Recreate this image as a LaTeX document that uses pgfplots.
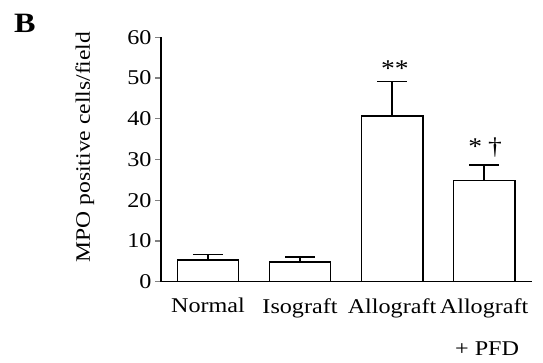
\documentclass[border=0pt]{standalone}
\usepackage{fontspec}
\setmainfont{Liberation Serif}[FakeStretch=1.15]
\usepackage{pgfplots}
\usepackage{pgfplotstable}
\pgfplotsset{compat=1.18}
\pgfplotstableread{
x y err
0 5.3 1.4
1 4.8 1.3
2 40.7 8.4
3 24.8 3.9
}\mpo
\begin{document}
\begin{tikzpicture}
\useasboundingbox (0,0) rectangle (543pt,-362pt);
\begin{axis}[
  at={(161pt,-281.7pt)}, anchor=south west,
  scale only axis, width=371pt, height=244.4pt,
  xmin=-0.51, xmax=3.52, ymin=0, ymax=60,
  axis x line*=bottom, axis y line*=left,
  axis line style={line width=1.4pt},
  xtick={0,1,2,3},
  xticklabels={Normal,Isograft,Allograft,{Allograft\\[19pt]\hspace*{6pt}+ PFD}},
  xticklabel style={align=center, yshift=-7pt},
  xtick style={draw=none},
  ytick={0,10,...,60},
  ytick style={line width=1.4pt},
  major tick length=6pt, tick align=outside,
  tick label style={font=\fontsize{21}{23}\selectfont},
  /pgf/number format/assume math mode=true,
  ylabel={MPO positive cells/field},
  ylabel style={at={(axis description cs:-0.205,0.551)}, anchor=center, font=\fontsize{20.5}{23}\selectfont},
  clip=false,
]
\addplot[ybar, bar width=61.5pt, fill=white, draw=black, line width=1.4pt,
  error bars/.cd, y dir=plus, y explicit,
  error mark=|,
  error bar style={line width=1.4pt, black},
  error mark options={mark size=15pt, line width=1.4pt, black}]
  table[x=x, y=y, y error=err]{\mpo};
\node[anchor=base, font=\fontsize{24}{26}\selectfont] at (axis cs:2.03,50.4) {**};
\node[anchor=base, font=\fontsize{24}{26}\selectfont] at (axis cs:3.01,31.2) {*\hspace{6pt}†};
\node[font=\fontsize{28}{30}\bfseries] at (axis description cs:-0.367,1.058) {B};
\end{axis}
\end{tikzpicture}
\end{document}
